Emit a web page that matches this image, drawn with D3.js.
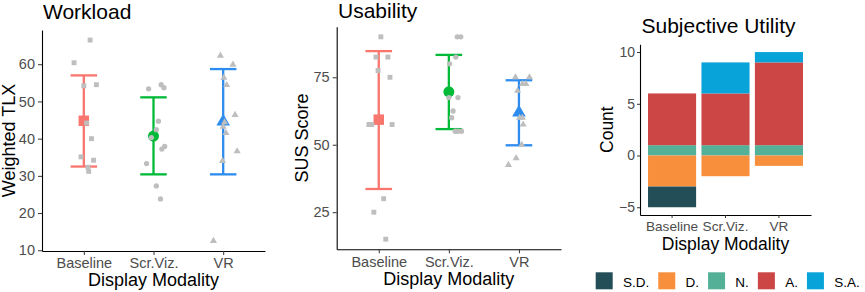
<!DOCTYPE html>
<html>
<head>
<meta charset="utf-8">
<script src="https://cdn.jsdelivr.net/npm/d3@7"></script>
<style>
body { margin: 0; background: #fff; }
text { font-family: "Liberation Sans", Arial, sans-serif; }
</style>
</head>
<body>
<div id="chart"></div>
<script>
var modalities = ["Baseline", "Scr.Viz.", "VR"];
var modalityColors = ["#F8766D", "#00BA38", "#2E8CEF"];
var modalityShapes = [d3.symbolSquare, d3.symbolCircle, d3.symbolTriangle];

// Workload (weighted TLX): mean, interval, raw responses + jitter (category units)
var tlxMean = [44.8, 40.7, 44.6];
var tlxLow = [32.5, 30.4, 30.4];
var tlxHigh = [57.0, 51.1, 58.7];
var tlxPoints = [
    [60.4, 66.5, 54.2, 54.5, 44.2, 40.0, 35.1, 34.2, 32.3, 31.2],
    [53.4, 54.5, 53.7, 44.7, 42.4, 40.3, 37.9, 37.2, 33.3, 27.3, 23.8],
    [62.3, 59.9, 56.4, 54.4, 46.4, 43.2, 41.5, 34.0, 36.6, 12.5, 44.4]
];
var tlxJitter = [
    [-0.14, 0.09, 0.0, 0.18, 0.04, 0.11, -0.04, 0.14, 0.06, 0.07],
    [-0.07, 0.11, 0.15, 0.07, 0.04, -0.03, 0.16, 0.12, -0.10, 0.04, 0.10],
    [-0.04, 0.14, 0.01, 0.05, 0.17, 0.0, 0.04, -0.01, 0.20, -0.14, 0.02]
];
var tlxTicks = [10, 20, 30, 40, 50, 60];

// Usability (SUS score)
var susMean = [59.3, 69.6, 61.9];
var susLow = [33.6, 55.8, 49.8];
var susHigh = [84.7, 83.3, 73.9];
var susPoints = [
    [90, 82.5, 82.5, 77.5, 75, 57.5, 57.5, 57.5, 30, 25, 15],
    [90, 90, 82.5, 80, 67.5, 67.5, 62.5, 60, 55, 55, 55],
    [75, 75, 72.5, 72.5, 70, 60, 60, 57.5, 50, 45, 42.5]
];
var susJitter = [
    [0.03, -0.04, 0.13, -0.01, 0.16, -0.14, -0.10, 0.19, 0.07, -0.07, 0.10],
    [0.12, 0.17, 0.10, 0.01, 0.0, 0.13, 0.06, 0.04, 0.09, 0.13, 0.18],
    [-0.05, 0.15, 0.05, 0.10, -0.02, 0.01, 0.05, 0.06, 0.04, -0.04, -0.15]
];
var susTicks = [25, 50, 75];

// Subjective utility (Likert counts)
var likertLevels = ["S.D.", "D.", "N.", "A.", "S.A."];
var likertColors = ["#244E57", "#F78F3D", "#54B096", "#CC4646", "#07A3D9"];
var sdCounts = [2, 0, 0];
var dCounts = [3, 2, 1];
var nCounts = [1, 1, 1];
var aCounts = [5, 5, 8];
var saCounts = [0, 3, 1];
var countTicks = [-5, 0, 5, 10];

var svg = d3.select("#chart").append("svg")
    .attr("width", 865)
    .attr("height", 292);

function styleAxis(g, size) {
    g.select(".domain").attr("stroke", "#000").attr("stroke-width", 1.1);
    g.selectAll(".tick line").attr("stroke", "#333").attr("stroke-width", 1);
    g.selectAll(".tick text").attr("fill", "#4D4D4D").style("font-size", size + "px")
        .style("font-family", "'Liberation Sans', Arial, sans-serif");
}

DotPanel = function(opts) {
    var vis = this;
    vis.opts = opts;
    vis.initVis();
}

DotPanel.prototype.initVis = function() {
    var vis = this;
    var o = vis.opts;

    var all = [];
    o.points.forEach(function(p) { all = all.concat(p); });
    all = all.concat(o.low, o.high);
    var ext = d3.extent(all);
    var pad = (ext[1] - ext[0]) * 0.05;

    vis.y = d3.scaleLinear().domain([ext[0] - pad, ext[1] + pad]).range([o.bottom, o.top]);
    vis.x = d3.scalePoint().domain(modalities).range([o.left, o.right]).padding(0.6);
    vis.step = vis.x.step();

    vis.g = svg.append("g");

    var yAxis = vis.g.append("g")
        .attr("transform", "translate(" + o.left + ",0)")
        .call(d3.axisLeft(vis.y).tickValues(o.ticks).tickSize(4).tickPadding(3).tickSizeOuter(0));
    styleAxis(yAxis, 14.5);

    var xAxis = vis.g.append("g")
        .attr("transform", "translate(0," + o.bottom + ")")
        .call(d3.axisBottom(vis.x).tickSize(4).tickPadding(3).tickSizeOuter(0));
    styleAxis(xAxis, 14.5);

    vis.g.append("text")
        .attr("x", o.titleX)
        .attr("y", o.titleY)
        .style("font-size", "21px")
        .text(o.title);

    vis.g.append("text")
        .attr("transform", "translate(" + o.yLabelX + "," + (o.top + o.bottom) / 2 + ") rotate(-90)")
        .attr("text-anchor", "middle")
        .style("font-size", "18px")
        .text(o.yLabel);

    vis.g.append("text")
        .attr("x", (o.left + o.right) / 2)
        .attr("y", o.xLabelY)
        .attr("text-anchor", "middle")
        .style("font-size", "18px")
        .text("Display Modality");

    vis.updateVis();
}

DotPanel.prototype.updateVis = function() {
    var vis = this;
    var o = vis.opts;
    var capHalf = vis.step * 0.19;

    var summary = modalities.map(function(m, i) {
        return {modality: m, mean: o.mean[i], low: o.low[i], high: o.high[i], i: i};
    });

    var bars = vis.g.selectAll(".errbar")
        .data(summary)
        .enter().append("g")
        .attr("class", "errbar")
        .attr("stroke", function(d) { return modalityColors[d.i]; })
        .attr("stroke-width", 2.3)
        .attr("fill", "none");

    bars.append("line")
        .attr("x1", function(d) { return vis.x(d.modality); })
        .attr("x2", function(d) { return vis.x(d.modality); })
        .attr("y1", function(d) { return vis.y(d.low); })
        .attr("y2", function(d) { return vis.y(d.high); });
    bars.append("line")
        .attr("x1", function(d) { return vis.x(d.modality) - capHalf; })
        .attr("x2", function(d) { return vis.x(d.modality) + capHalf; })
        .attr("y1", function(d) { return vis.y(d.low); })
        .attr("y2", function(d) { return vis.y(d.low); });
    bars.append("line")
        .attr("x1", function(d) { return vis.x(d.modality) - capHalf; })
        .attr("x2", function(d) { return vis.x(d.modality) + capHalf; })
        .attr("y1", function(d) { return vis.y(d.high); })
        .attr("y2", function(d) { return vis.y(d.high); });

    var meanSizes = [110, 95, 80];
    vis.g.selectAll(".mean")
        .data(summary)
        .enter().append("path")
        .attr("class", "mean")
        .attr("d", function(d) { return d3.symbol().type(modalityShapes[d.i]).size(meanSizes[d.i])(); })
        .attr("transform", function(d) { return "translate(" + vis.x(d.modality) + "," + vis.y(d.mean) + ")"; })
        .attr("fill", function(d) { return modalityColors[d.i]; });

    var pts = [];
    o.points.forEach(function(list, i) {
        list.forEach(function(v, j) {
            pts.push({i: i, value: v, jitter: o.jitter[i][j]});
        });
    });

    var pointSizes = [24, 22, 22];
    vis.g.selectAll(".pt")
        .data(pts)
        .enter().append("path")
        .attr("class", "pt")
        .attr("d", function(d) { return d3.symbol().type(modalityShapes[d.i]).size(pointSizes[d.i])(); })
        .attr("transform", function(d) {
            return "translate(" + (vis.x(modalities[d.i]) + d.jitter * vis.step) + "," + vis.y(d.value) + ")";
        })
        .attr("fill", "#BEBEBE");
}

new DotPanel({
    mean: tlxMean, low: tlxLow, high: tlxHigh, points: tlxPoints, jitter: tlxJitter, ticks: tlxTicks,
    left: 42, right: 265, top: 30, bottom: 251,
    title: "Workload", titleX: 43, titleY: 18.5,
    yLabel: "Weighted TLX", yLabelX: 15, xLabelY: 286
});

new DotPanel({
    mean: susMean, low: susLow, high: susHigh, points: susPoints, jitter: susJitter, ticks: susTicks,
    left: 336.7, right: 561, top: 26.7, bottom: 249.3,
    title: "Usability", titleX: 338, titleY: 18,
    yLabel: "SUS Score", yLabelX: 308, xLabelY: 285
});

// stacked diverging bars
var barLeft = 640, barRight = 811, barTop = 44.3, barBottom = 215;

var table = modalities.map(function(m, i) {
    return {modality: m, "S.D.": -sdCounts[i], "D.": -dCounts[i], "N.": nCounts[i], "A.": aCounts[i], "S.A.": saCounts[i]};
});
var stacked = d3.stack()
    .keys(["N.", "A.", "S.A.", "D.", "S.D."])
    .offset(d3.stackOffsetDiverging)(table);

var lo = d3.min(stacked, function(s) { return d3.min(s, function(d) { return d[0]; }); });
var hi = d3.max(stacked, function(s) { return d3.max(s, function(d) { return d[1]; }); });
var pad = (hi - lo) * 0.05;

var bx = d3.scaleBand().domain(modalities).range([barLeft, barRight]).paddingInner(0.1).paddingOuter(0.15);
var by = d3.scaleLinear().domain([lo - pad, hi + pad]).range([barBottom, barTop]);
var colorOf = d3.scaleOrdinal().domain(likertLevels).range(likertColors);

var bg = svg.append("g");

bg.selectAll(".layer")
    .data(stacked)
    .enter().append("g")
    .attr("class", "layer")
    .attr("fill", function(d) { return colorOf(d.key); })
    .selectAll("rect")
    .data(function(d) { return d; })
    .enter().append("rect")
    .attr("x", function(d) { return bx(d.data.modality); })
    .attr("width", bx.bandwidth())
    .attr("y", function(d) { return by(d[1]); })
    .attr("height", function(d) { return by(d[0]) - by(d[1]); });

var byAxis = bg.append("g")
    .attr("transform", "translate(" + barLeft + ",0)")
    .call(d3.axisLeft(by).tickValues(countTicks).tickSize(3).tickPadding(2).tickSizeOuter(0));
styleAxis(byAxis, 14);

var bxAxis = bg.append("g")
    .attr("transform", "translate(0," + barBottom + ")")
    .call(d3.axisBottom(bx).tickSize(3).tickPadding(3).tickSizeOuter(0));
styleAxis(bxAxis, 13.6);

bg.append("text")
    .attr("x", (barLeft + barRight) / 2 - 7)
    .attr("y", 33)
    .attr("text-anchor", "middle")
    .style("font-size", "21px")
    .text("Subjective Utility");

bg.append("text")
    .attr("transform", "translate(613," + (barTop + barBottom) / 2 + ") rotate(-90)")
    .attr("text-anchor", "middle")
    .style("font-size", "17.5px")
    .text("Count");

bg.append("text")
    .attr("x", (barLeft + barRight) / 2)
    .attr("y", 250)
    .attr("text-anchor", "middle")
    .style("font-size", "17.5px")
    .text("Display Modality");

// legend
var legend = svg.append("g");
var lx = 595.7;
likertLevels.forEach(function(level, i) {
    legend.append("rect")
        .attr("x", lx)
        .attr("y", 272.3)
        .attr("width", 17)
        .attr("height", 17)
        .attr("fill", likertColors[i]);
    var t = legend.append("text")
        .attr("x", lx + 27.3)
        .attr("y", 286.5)
        .style("font-size", "13.5px")
        .text(level);
    lx = lx + 27.3 + t.node().getComputedTextLength() + 9;
});
</script>
</body>
</html>
